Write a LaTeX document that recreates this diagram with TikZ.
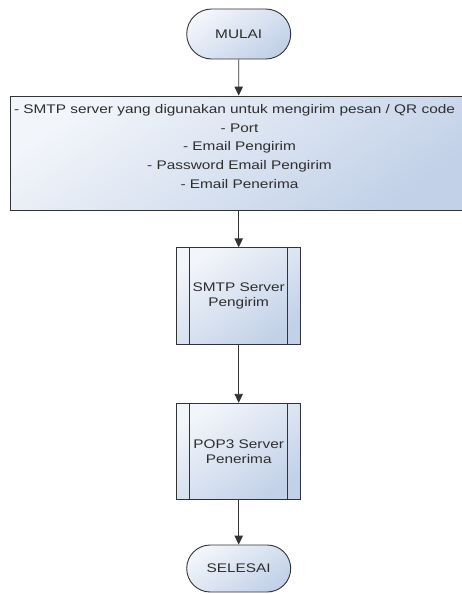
\documentclass[tikz,border=0pt]{standalone}
\usepackage{fontspec}
\setmainfont[FakeStretch=1.23]{Liberation Sans}
\usetikzlibrary{arrows.meta,shapes.misc}
\definecolor{ln}{HTML}{333333}
\definecolor{txtc}{HTML}{2E2E2E}
\definecolor{lite}{HTML}{F2F5FA}
\definecolor{deep}{HTML}{C2D1E8}
\tikzset{
  fillgrad/.style={top color=lite, bottom color=deep, shading angle=35},
  terminal/.style={rounded rectangle, draw=ln, line width=0.9pt, fillgrad,
    minimum width=104pt, text=txtc, font=\fontsize{12.5}{14.5}\selectfont, inner sep=0pt},
  infobox/.style={rectangle, draw=ln, line width=0.9pt, fillgrad,
    minimum width=458pt, minimum height=114pt, inner sep=0pt},
  infotxt/.style={align=center, text=txtc, font=\fontsize{12.5}{18.7}\selectfont, inner sep=0pt},
  procbox/.style={rectangle, draw=ln, line width=0.9pt, fillgrad,
    minimum width=124pt, minimum height=96.5pt, align=center, text=txtc,
    font=\fontsize{12.5}{14.5}\selectfont, inner sep=0pt},
  conn/.style={draw=ln, line width=0.9pt, -{Triangle[length=9pt,width=8.5pt]}},
  sideline/.style={draw=ln, line width=0.9pt}
}
\begin{document}
\begin{tikzpicture}[x=1pt,y=-1pt]
\useasboundingbox (0,0) rectangle (461,594);
\node[terminal, minimum height=50pt] (start) at (238.7,34) {MULAI};
\node[infobox] (info) at (239,153) {};
\node[infotxt, yshift=6.5pt] (infotext) at (239.5,153) {\hspace*{-10pt}- SMTP server yang digunakan untuk mengirim pesan / QR code\\- Port\\- Email Pengirim\\- Password Email Pengirim\\- Email Penerima};
\node[procbox] (smtp) at (238.7,296) {SMTP Server\\Pengirim};
\node[procbox] (pop) at (238.7,451.5) {POP3 Server\\Penerima};
\node[terminal, minimum height=47pt] (end) at (238.7,568.5) {SELESAI};
\draw[sideline] ([xshift=13.3pt]smtp.north west) -- ([xshift=13.3pt]smtp.south west);
\draw[sideline] ([xshift=-13.3pt]smtp.north east) -- ([xshift=-13.3pt]smtp.south east);
\draw[sideline] ([xshift=13.3pt]pop.north west) -- ([xshift=13.3pt]pop.south west);
\draw[sideline] ([xshift=-13.3pt]pop.north east) -- ([xshift=-13.3pt]pop.south east);
\draw[conn] (start) -- (start |- info.north);
\draw[conn] (info.south -| smtp.north) -- (smtp);
\draw[conn] (smtp) -- (pop);
\draw[conn] (pop) -- (end);
\end{tikzpicture}
\end{document}
